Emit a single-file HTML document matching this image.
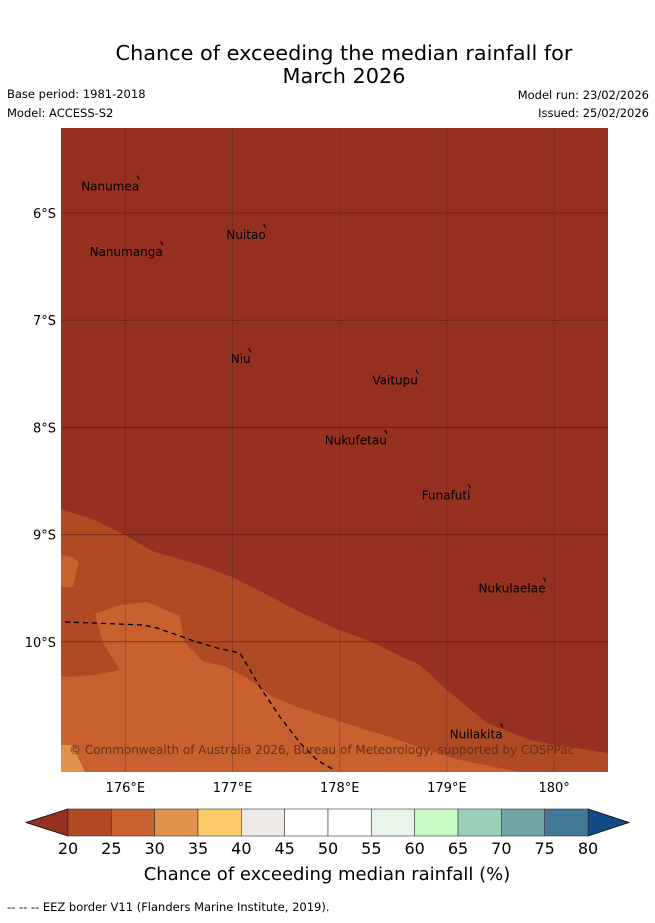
<!DOCTYPE html>
<html><head><meta charset="utf-8"><style>
body{margin:0;background:#fff;width:655px;height:919px;overflow:hidden;font-family:"DejaVu Sans","Liberation Sans",sans-serif}
svg text{font-family:"DejaVu Sans","Liberation Sans",sans-serif}
</style></head><body>
<svg id="chart" width="655" height="919" xmlns="http://www.w3.org/2000/svg">
<text x="344" y="60" font-size="20.8" text-anchor="middle">Chance of exceeding the median rainfall for</text>
<text x="344" y="83" font-size="20.8" text-anchor="middle">March 2026</text>
<text x="7" y="98" font-size="11.5">Base period: 1981-2018</text>
<text x="7" y="117" font-size="11.5">Model: ACCESS-S2</text>
<text x="649" y="99" font-size="11.5" text-anchor="end">Model run: 23/02/2026</text>
<text x="649" y="117" font-size="11.5" text-anchor="end">Issued: 25/02/2026</text>
<defs><clipPath id="mapclip"><rect x="61" y="128" width="547" height="644"/></clipPath></defs>
<g id="map" clip-path="url(#mapclip)">
<rect x="61" y="128" width="547" height="644" fill="#963020"/>
<polygon fill="#b04a25" points="61,509 95,520 125,535 152,551 200,565 232,577 262,592 300,612 339,630 370,641 400,656 420,665 447,690 465,705 487,723 530,740 555,745 608,753 608,772 61,772"/>
<polygon fill="#c8602f" points="61,555 72,557 79,562 73,587 61,587"/>
<polygon fill="#c8602f" points="61,676 67,677 93,675 120,670 103,643 95,614 120,605 147,602 180,616 184,642 204,662 224,666 247,678 273,697 300,708 327,717 360,728 393,738 427,750 460,760 520,772 61,772"/>
<polygon fill="#e0914a" points="61,745 72,745 85,772 61,772"/>
<g id="grid"></g>
<polyline fill="none" stroke="#000" stroke-width="1.3" stroke-dasharray="5,4" points="65,622 93,623 143,625 157,628 177,635 197,642 217,648 240,653 260,687 280,717 300,743 317,760 334,770"/>
<g id="islands"></g>
<text x="69" y="754" font-size="12" fill="#5a2a18" opacity="0.85">© Commonwealth of Australia 2026, Bureau of Meteorology, supported by COSPPac</text>
</g>
<g id="axes"></g>
<g id="cbar"></g>
<text x="327" y="880" font-size="18" text-anchor="middle">Chance of exceeding median rainfall (%)</text>
<text x="7" y="911" font-size="11.5">--  --  -- EEZ border V11 (Flanders Marine Institute, 2019).</text>
</svg>
<script>
const lonTicks=[176,177,178,179,180];
const latTicks=[6,7,8,9,10];
const cbLevels=[20,25,30,35,40,45,50,55,60,65,70,75,80];
const cbColors=["#b04a25","#c8602f","#e0914a","#fdcb6a","#ece9e6","#ffffff","#ffffff","#e9f5e8","#c8fac8","#9bd0b8","#6fa5a5","#407a98"];
const islandNames=["Nanumea","Nuitao","Nanumanga","Niu","Vaitupu","Nukufetau","Funafuti","Nukulaelae","Nuilakita"];
const islandLon=[176.12,177.30,176.34,177.16,178.72,178.43,179.21,179.91,179.51];
const islandLat=[5.67,6.12,6.28,7.28,7.48,8.04,8.55,9.42,10.78];
const NS="http://www.w3.org/2000/svg";
const x0=61,lon0=175.40,y0=128,lat0=5.207,ppd=107.2;
const xs=l=>x0+(l-lon0)*ppd, ys=l=>y0+(l-lat0)*ppd;
function mk(tag,attrs,parent){const e=document.createElementNS(NS,tag);for(const k in attrs)e.setAttribute(k,attrs[k]);parent.appendChild(e);return e;}
const grid=document.getElementById('grid'),axes=document.getElementById('axes');
lonTicks.forEach(t=>{const x=xs(t);
 const l=mk('line',{x1:x,x2:x,y1:128,y2:772,stroke:'#5a1a10','stroke-width':1,'stroke-dasharray':'1,1',opacity:0.6},grid);
 
 
 const tx=mk('text',{x:x,y:792,'font-size':13,'text-anchor':'middle'},axes);tx.textContent=t+'°'+(t<180?'E':'');
 
 });
latTicks.forEach(t=>{const y=ys(t);
 const l=mk('line',{x1:61,x2:608,y1:y,y2:y,stroke:'#5a1a10','stroke-width':1,opacity:0.6},grid);
 
 
 const tx=mk('text',{x:56,y:y+5,'font-size':13,'text-anchor':'end'},axes);tx.textContent=t+'°S';
 
 });
const isl=document.getElementById('islands');
islandNames.forEach((n,i)=>{const x=xs(islandLon[i]),y=ys(islandLat[i]);
 const m=mk('line',{x1:x-1,y1:y-2,x2:x+1,y2:y+2,stroke:'#000','stroke-width':1.1},isl);
 
 
 const t=mk('text',{x:x+1,y:y+13,'font-size':12,'text-anchor':'end'},isl);t.textContent=n;
 
 });
const cb=document.getElementById('cbar');const cbx0=68,cbx1=588,cby=809,cbh=27;
const bw=(cbx1-cbx0)/cbColors.length;
const lt=mk('polygon',{points:`${cbx0},${cby} 26,${cby+cbh/2} ${cbx0},${cby+cbh}`,fill:'#963020',stroke:'#000','stroke-width':0.8},cb);


const rt=mk('polygon',{points:`${cbx1},${cby} 629,${cby+cbh/2} ${cbx1},${cby+cbh}`,fill:'#134c85',stroke:'#000','stroke-width':0.8},cb);


cbColors.forEach((c,i)=>{const r=mk('rect',{x:cbx0+i*bw,y:cby,width:bw,height:cbh,fill:c,stroke:'#333','stroke-width':0.6},cb);
 
 });
cbLevels.forEach((v,i)=>{const t=mk('text',{x:cbx0+i*bw,y:854,'font-size':16,'text-anchor':'middle'},cb);t.textContent=v;
 
 });
</script>
</body></html>
